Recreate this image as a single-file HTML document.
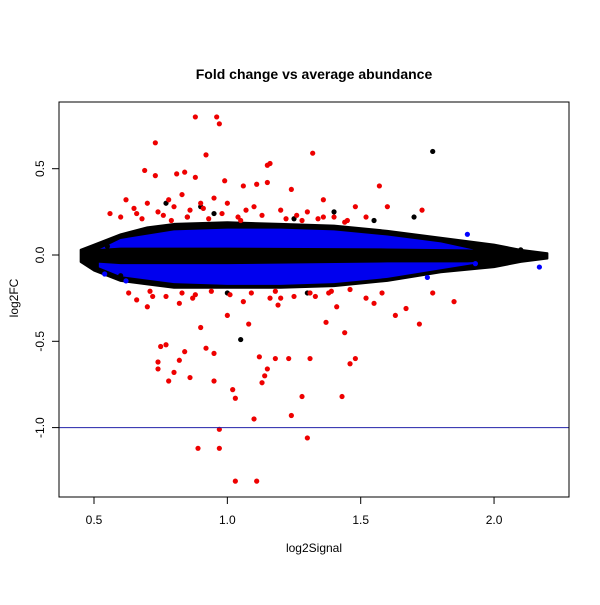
<!DOCTYPE html>
<html><head><meta charset="utf-8"><style>
body{margin:0;background:#fff}
text{font-family:"Liberation Sans",sans-serif}
</style></head><body>
<svg id="chart" width="600" height="600" xmlns="http://www.w3.org/2000/svg">
<rect width="600" height="600" fill="#fff"/>
<text x="314" y="79" text-anchor="middle" font-size="14" font-weight="bold">Fold change vs average abundance</text>
<text x="314" y="552" text-anchor="middle" font-size="12">log2Signal</text>
<text transform="translate(18,298) rotate(-90)" text-anchor="middle" font-size="12">log2FC</text>
<g id="plot"></g>
<rect x="59" y="102" width="510" height="395" fill="none" stroke="#000" stroke-width="1"/>
<g id="axes"></g>
</svg>
<script>
const xTicks=[0.5,1.0,1.5,2.0];
const xTickLabels=["0.5","1.0","1.5","2.0"];
const yTicks=[0.5,0.0,-0.5,-1.0];
const yTickLabels=["0.5","0.0","-0.5","-1.0"];
const refLine=-1.0;
// dense cloud envelopes
const outerX=[0.45,0.5,0.6,0.7,0.8,1.0,1.2,1.4,1.6,1.8,2.0,2.1,2.2];
const outerUp=[0.03,0.06,0.12,0.16,0.18,0.19,0.18,0.17,0.14,0.1,0.06,0.03,0.01];
const outerLo=[-0.04,-0.09,-0.15,-0.17,-0.19,-0.19,-0.19,-0.18,-0.15,-0.1,-0.07,-0.04,-0.02];
const blueX=[0.52,0.6,0.8,1.0,1.2,1.4,1.6,1.8,1.92];
const blueUp=[0.03,0.09,0.14,0.15,0.15,0.14,0.11,0.07,0.03];
const blueLo=[-0.07,-0.12,-0.16,-0.17,-0.17,-0.16,-0.13,-0.08,-0.05];
const coreX=[0.45,0.6,1.0,1.6,1.9,2.2];
const coreUp=[0.025,0.04,0.04,0.035,0.03,0.01];
const coreLo=[-0.035,-0.05,-0.05,-0.04,-0.04,-0.015];
const redX=[0.88,0.96,0.97,0.73,0.92,1.16,1.15,1.32,0.69,0.73,0.81,0.84,0.88,0.99,1.06,1.11,1.15,1.24,1.36,1.57,1.73,1.60,1.48,0.62,0.56,0.65,0.70,0.78,0.83,0.90,0.95,1.00,1.10,1.20,1.30,1.40,0.60,0.66,0.76,0.86,1.04,1.26,1.34,1.45,1.52,
0.89,0.97,0.97,1.03,1.11,1.30,1.24,1.10,1.43,1.28,1.02,1.03,0.95,0.86,0.78,0.74,0.74,0.80,0.82,0.77,0.75,0.84,0.92,0.95,1.12,1.15,1.13,1.18,1.14,1.23,1.31,1.37,1.44,1.48,1.46,1.72,1.63,1.67,1.55,1.52,1.85,0.66,0.70,0.82,0.90,1.00,1.08,1.20,1.33,1.41,0.63,0.72,0.88,1.06,1.16,1.38,1.58,1.77,
0.68,0.74,0.79,0.85,0.93,0.98,1.05,1.13,1.22,1.28,1.36,1.44,0.71,0.77,0.83,0.87,0.94,1.01,1.09,1.18,1.25,1.31,1.39,1.46,0.80,0.91,1.07,1.19];
const redY=[0.80,0.80,0.76,0.65,0.58,0.53,0.52,0.59,0.49,0.46,0.47,0.48,0.45,0.43,0.40,0.41,0.42,0.38,0.32,0.40,0.26,0.28,0.28,0.32,0.24,0.27,0.30,0.32,0.35,0.30,0.33,0.30,0.28,0.26,0.25,0.22,0.22,0.24,0.23,0.26,0.22,0.23,0.21,0.20,0.22,
-1.12,-1.01,-1.12,-1.31,-1.31,-1.06,-0.93,-0.95,-0.82,-0.82,-0.78,-0.83,-0.73,-0.71,-0.73,-0.66,-0.62,-0.68,-0.61,-0.52,-0.53,-0.56,-0.54,-0.57,-0.59,-0.66,-0.74,-0.60,-0.70,-0.60,-0.60,-0.39,-0.45,-0.60,-0.63,-0.40,-0.35,-0.31,-0.28,-0.25,-0.27,-0.26,-0.30,-0.28,-0.42,-0.35,-0.40,-0.25,-0.24,-0.30,-0.22,-0.24,-0.23,-0.27,-0.25,-0.22,-0.22,-0.22,
0.21,0.25,0.20,0.22,0.21,0.24,0.20,0.23,0.21,0.20,0.22,0.19,-0.21,-0.24,-0.22,-0.25,-0.21,-0.23,-0.22,-0.21,-0.24,-0.22,-0.21,-0.20,0.28,0.27,0.26,-0.29];
const blackX=[1.77,1.05,0.9,0.77,1.4,1.7,2.1,0.55,0.6,0.85,1.25,1.55,1.0,0.95,1.3];
const blackY=[0.60,-0.49,0.28,0.3,0.25,0.22,0.03,0.05,-0.12,0.22,0.21,0.2,-0.22,0.24,-0.22];
const blueX2=[1.9,2.17,1.93,1.75,0.62,0.54];
const blueY2=[0.12,-0.07,-0.05,-0.13,-0.15,-0.11];

const X=v=>94+(v-0.5)*266.7;
const Y=v=>255-v*172.6;
const NS="http://www.w3.org/2000/svg";
const plot=document.getElementById('plot'),axes=document.getElementById('axes');
function mk(tag,attrs,parent){const e=document.createElementNS(NS,tag);for(const k in attrs)e.setAttribute(k,attrs[k]);parent.appendChild(e);return e;}
function band(xs,up,lo,fill,name,sw){
  let pts=xs.map((x,i)=>X(x)+','+Y(up[i]));
  for(let i=xs.length-1;i>=0;i--)pts.push(X(xs[i])+','+Y(lo[i]));
  const p=mk('polygon',{points:pts.join(' '),fill:fill,stroke:fill,'stroke-width':sw,'stroke-linejoin':'round'},plot);
  
  
}
band(outerX,outerUp,outerLo,'#000','dense-cloud-black',2);
band(blueX,blueUp,blueLo,'#0000ee','dense-cloud-blue',1);
band(coreX,coreUp,coreLo,'#000','dense-core-black',1);
function pts(xs,ys,col,name){
  xs.forEach((x,i)=>{
    const c=mk('circle',{cx:X(x),cy:Y(ys[i]),r:2.6,fill:col},plot);
    
    
  });
}
pts(blackX,blackY,'#000','point-black');
pts(blueX2,blueY2,'#0000ff','point-blue');
pts(redX,redY,'#ee0000','point-red');
const l=mk('line',{x1:59,x2:569,y1:Y(refLine),y2:Y(refLine),stroke:'#2222aa','stroke-width':1},plot);


xTicks.forEach((t,i)=>{
  const tk=mk('line',{x1:X(t),x2:X(t),y1:497,y2:504,stroke:'#000'},axes);
  
  
  const tx=mk('text',{x:X(t),y:524,'text-anchor':'middle','font-size':12},axes);
  tx.textContent=xTickLabels[i];
  
  
});
yTicks.forEach((t,i)=>{
  const tk=mk('line',{x1:52,x2:59,y1:Y(t),y2:Y(t),stroke:'#000'},axes);
  
  
  const tx=mk('text',{transform:`translate(44,${Y(t)}) rotate(-90)`,'text-anchor':'middle','font-size':12},axes);
  tx.textContent=yTickLabels[i];
  
  
});
</script>
</body></html>
